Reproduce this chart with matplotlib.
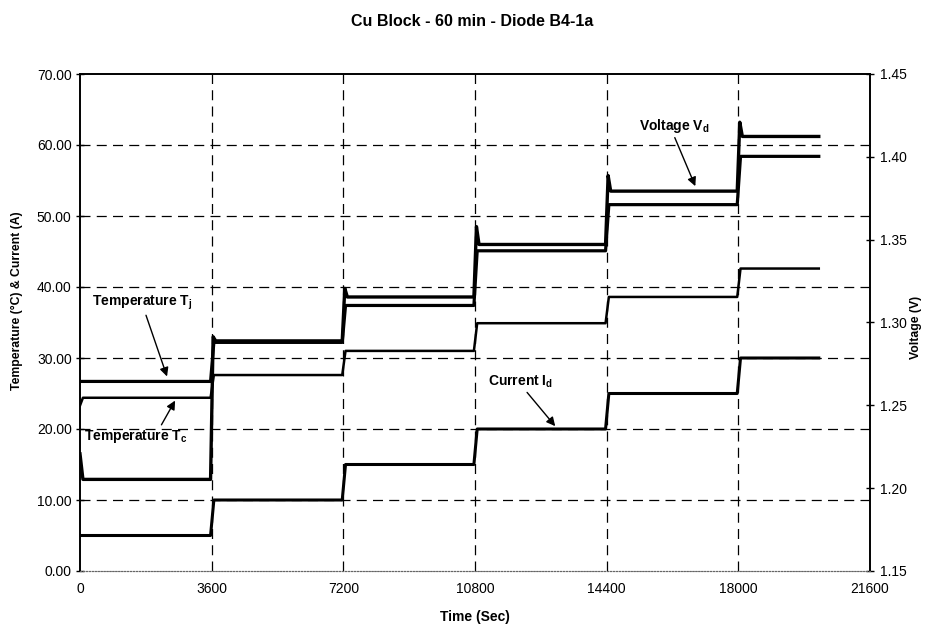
import numpy as np
import matplotlib
matplotlib.use('Agg')
import matplotlib.pyplot as plt

plt.rcParams['font.family'] = ['Liberation Sans', 'DejaVu Sans']
plt.rcParams['mathtext.fontset'] = 'custom'
plt.rcParams['mathtext.rm'] = 'Liberation Sans'
plt.rcParams['mathtext.bf'] = 'Liberation Sans:bold'

# start time of each current step (sec), and end of the run
step_start = [0, 3600, 7200, 10800, 14400, 18000]
run_end = 20200

# level held during each step
current_id = [5.0, 10.0, 15.0, 20.0, 25.0, 30.0]
temp_tj = [26.7, 32.2, 37.4, 45.1, 51.6, 58.4]
temp_tc = [24.4, 27.6, 31.0, 34.9, 38.6, 42.6]
volt_vd = [1.2053, 1.2889, 1.3154, 1.3471, 1.3793, 1.4123]
# overshoot of the voltage right after each step
volt_peak = [1.2207, 1.2914, 1.3206, 1.3579, 1.3887, 1.4209]
tc_first = 23.3

xticks = [0, 3600, 7200, 10800, 14400, 18000, 21600]
yticks_left = [0, 10, 20, 30, 40, 50, 60, 70]
yticks_right = [1.15, 1.20, 1.25, 1.30, 1.35, 1.40, 1.45]


def steps(levels, peaks=None, first=None):
    # turn step levels into a line with short ramps at each change
    t, y = [], []
    ends = step_start[1:] + [run_end]
    for i, (t0, t1) in enumerate(zip(step_start, ends)):
        if i == 0:
            t.append(t0)
            y.append(first if first is not None else (peaks[0] if peaks else levels[0]))
            t.append(t0 + 80)
        else:
            if peaks:
                t.append(t0 + 40)
                y.append(peaks[i])
                t.append(t0 + 110)
            else:
                t.append(t0 + 60)
        y.append(levels[i])
        t.append(t1 - 30 if i < len(levels) - 1 else t1)
        y.append(levels[i])
    return t, y


fig = plt.figure(figsize=(9.27, 6.25), dpi=100)
ax = fig.add_axes([0.0863, 0.0864, 0.8522, 0.7952])
ax2 = ax.twinx()

ax.set_xlim(0, 21600)
ax.set_ylim(0, 70)
ax2.set_ylim(1.15, 1.45)

# dashed grid (drawn by hand so the frame edges stay plain)
for yv in yticks_left[1:-1]:
    ax.axhline(yv, color='black', lw=0.9, ls=(0, (8, 5)), zorder=1)
for xv in xticks[1:-1]:
    ax.axvline(xv, color='black', lw=0.9, ls=(0, (8, 5)), zorder=1)

t, y = steps(current_id)
ax.plot(t, y, color='black', lw=2.2, zorder=3)
t, y = steps(temp_tc, first=tc_first)
ax.plot(t, y, color='black', lw=1.8, zorder=3)
t, y = steps(temp_tj)
ax.plot(t, y, color='black', lw=2.3, zorder=3)
t, y = steps(volt_vd, peaks=volt_peak)
ax2.plot(t, y, color='black', lw=2.4, zorder=3)

ax.set_xticks(xticks)
ax.set_yticks(yticks_left)
ax.set_yticklabels(['%.2f' % v for v in yticks_left])
ax2.set_yticks(yticks_right)
ax2.set_yticklabels(['%.2f' % v for v in yticks_right])

ax.tick_params(axis='x', length=0, pad=8, labelsize=10)
ax.tick_params(axis='y', direction='inout', length=6, width=1, pad=3, labelsize=10)
ax2.tick_params(axis='y', direction='inout', length=6, width=1, pad=4, labelsize=10)

for a in (ax, ax2):
    a.spines['bottom'].set_linestyle(':')
    a.spines['bottom'].set_linewidth(0.8)
    a.spines['bottom'].set_color('0.4')
    a.spines['top'].set_linewidth(1.2)
    a.spines['left'].set_linewidth(1.2)
    a.spines['right'].set_linewidth(1.2)

ax.set_xlabel('Time (Sec)', fontsize=10, fontweight='bold')
ax.xaxis.set_label_coords(0.5, -0.078)
ax.set_ylabel('Temperature (°C) & Current (A)', fontsize=8.8, fontweight='bold')
ax.yaxis.set_label_coords(-0.072, 0.543)
ax2.set_ylabel('Voltage (V)', fontsize=8.8, fontweight='bold')
ax2.yaxis.set_label_coords(1.0506, 0.49)

fig.text(0.509, 0.965, 'Cu Block - 60 min - Diode B4-1a', ha='center', va='center',
         fontsize=11.5, fontweight='bold')

arrow = dict(arrowstyle='-|>', color='black', lw=1.0, mutation_scale=13, shrinkA=0, shrinkB=0)

ax.annotate(r'Temperature T$_\mathbf{j}$', xy=(2380, 27.4), xytext=(1696, 37.7),
            ha='center', va='center', fontsize=10, fontweight='bold',
            arrowprops=dict(arrow, relpos=(0.53, 0.0)), zorder=5)
ax.annotate(r'Temperature T$_\mathbf{c}$', xy=(2600, 24.0), xytext=(1532, 19.0),
            ha='center', va='center', fontsize=10, fontweight='bold',
            arrowprops=dict(arrow, relpos=(0.73, 1.0)), zorder=5)
ax.annotate(r'Current I$_\mathbf{d}$', xy=(12994, 20.4), xytext=(12036, 26.7),
            ha='center', va='center', fontsize=10, fontweight='bold',
            arrowprops=dict(arrow, relpos=(0.57, 0.0)), zorder=5)
ax2.annotate(r'Voltage V$_\mathbf{d}$', xy=(16824, 1.3823), xytext=(16250, 1.4187),
             ha='center', va='center', fontsize=10, fontweight='bold',
             arrowprops=dict(arrow, relpos=(0.49, 0.0)), zorder=5)

fig.savefig('out.png', dpi=100)
